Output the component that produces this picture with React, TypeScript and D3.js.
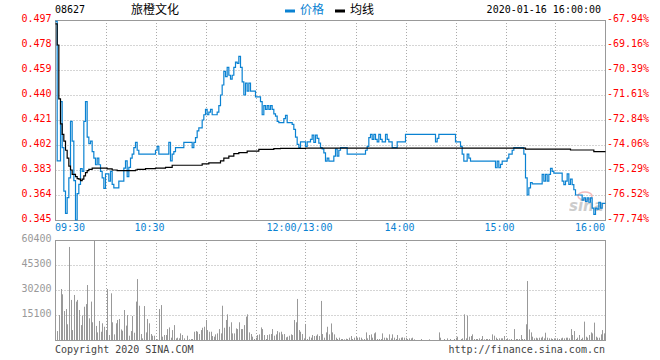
import * as d3 from 'd3'

const W = 660
const H = 360
const LEFT = 55.5
const RIGHT = 605.5
const P_TOP = 20
const P_BOTTOM = 220
const V_TOP = 240
const V_BOTTOM = 340

const BLUE = '#0a82d2'
const RED = '#ff0000'
const GRID = '#aaaaaa'
const FRAME = '#999999'
const MONO = '"DejaVu Sans Mono", "Liberation Mono", monospace'
const CJK = '"Noto Sans CJK SC", sans-serif'

// price axis labels (left) and change vs previous close (right)
const priceTicks = [0.497, 0.478, 0.459, 0.44, 0.421, 0.402, 0.383, 0.364, 0.345]
const priceLabels = ['0.497', '0.478', '0.459', '0.440', '0.421', '0.402', '0.383', '0.364', '0.345']
const pctLabels = ['-67.94%', '-69.16%', '-70.39%', '-71.61%', '-72.84%', '-74.06%', '-75.29%', '-76.52%', '-77.74%']

// trading minutes since 09:30 (lunch break removed)
const timeTicks = [0, 60, 150, 210, 270, 330]
const timeLabels = ['09:30', '10:30', '12:00/13:00', '14:00', '15:00', '16:00']
const gridMinutes = [30, 60, 90, 120, 150, 180, 210, 240, 270, 300]

const volTicks = [60400, 45300, 30200, 15100]

// price: [minute, price], held until the next change
const price: [number, number][] = [
  [0, 0.496], [1, 0.39], [3, 0.435], [4, 0.4], [5, 0.367], [6, 0.35], [7, 0.362], [8, 0.377],
  [9, 0.42], [10, 0.405], [11, 0.375], [12, 0.345], [13, 0.365], [14, 0.372], [15, 0.384], [16, 0.382],
  [17, 0.42], [18, 0.435], [19, 0.408], [20, 0.403], [21, 0.405], [22, 0.397], [23, 0.392], [24, 0.387],
  [25, 0.392], [26, 0.387], [27, 0.382], [28, 0.377], [29, 0.369], [30, 0.38], [32, 0.3745], [33, 0.382],
  [34, 0.372], [35, 0.3694], [38, 0.3745], [41, 0.3845], [42, 0.39], [43, 0.378], [44, 0.385], [45, 0.392],
  [46, 0.395], [47, 0.4], [48, 0.404], [49, 0.398], [50, 0.395], [60, 0.398], [61, 0.401], [62, 0.395],
  [68, 0.404], [69, 0.39], [70, 0.395], [71, 0.397], [72, 0.4], [77, 0.404], [82, 0.4], [83, 0.404],
  [84, 0.4076], [85, 0.4127], [86, 0.415], [88, 0.421], [89, 0.425], [90, 0.429], [91, 0.425], [92, 0.427],
  [93, 0.429], [94, 0.425], [97, 0.427], [98, 0.432], [99, 0.44], [100, 0.4476], [101, 0.458], [102, 0.454],
  [103, 0.461], [104, 0.455], [105, 0.452], [106, 0.455], [107, 0.461], [108, 0.465], [109, 0.464], [110, 0.4694],
  [111, 0.461], [112, 0.45], [113, 0.44], [114, 0.449], [115, 0.443], [116, 0.449], [117, 0.443], [120, 0.4385],
  [123, 0.435], [124, 0.425], [125, 0.432], [126, 0.429], [127, 0.432], [128, 0.429], [129, 0.432], [130, 0.429],
  [131, 0.4257], [132, 0.424], [133, 0.42], [134, 0.419], [137, 0.422], [138, 0.4245], [139, 0.419], [142, 0.4177],
  [143, 0.4138], [144, 0.408], [145, 0.4025], [146, 0.4], [147, 0.4044], [150, 0.401], [151, 0.4044], [153, 0.4063],
  [154, 0.4095], [155, 0.404], [156, 0.4095], [157, 0.407], [158, 0.4035], [159, 0.4], [160, 0.399], [161, 0.396],
  [162, 0.3898], [163, 0.392], [164, 0.3898], [167, 0.3935], [168, 0.399], [169, 0.3935], [170, 0.398], [171, 0.4],
  [175, 0.395], [186, 0.398], [187, 0.401], [188, 0.4076], [189, 0.41], [190, 0.4063], [191, 0.41], [192, 0.4063],
  [193, 0.4044], [194, 0.41], [195, 0.4063], [196, 0.4044], [198, 0.41], [199, 0.4063], [200, 0.4044], [202, 0.4],
  [205, 0.4044], [210, 0.41], [228, 0.4044], [229, 0.407], [230, 0.41], [240, 0.4044], [243, 0.401], [244, 0.395],
  [245, 0.3898], [247, 0.395], [248, 0.392], [249, 0.3898], [264, 0.3847], [265, 0.3898], [266, 0.3847], [267, 0.3873],
  [268, 0.3898], [271, 0.392], [272, 0.395], [274, 0.398], [275, 0.4], [281, 0.395], [282, 0.377], [283, 0.364],
  [284, 0.3694], [285, 0.3735], [286, 0.3725], [292, 0.3796], [293, 0.3745], [294, 0.3796], [295, 0.3745], [296, 0.3796],
  [297, 0.3842], [298, 0.382], [299, 0.3806], [304, 0.3745], [305, 0.3719], [306, 0.3745], [307, 0.38], [308, 0.372],
  [309, 0.376], [310, 0.3719], [311, 0.368], [312, 0.364], [316, 0.36], [317, 0.3618], [318, 0.3592], [319, 0.3618],
  [320, 0.3585], [321, 0.3618], [322, 0.354], [323, 0.3493], [324, 0.354], [325, 0.3533], [326, 0.3585], [327, 0.354],
  [328, 0.3576], [330, 0.3576],
]

// average price line
const avg: [number, number][] = [
  [0, 0.494], [1, 0.478], [2, 0.437], [3, 0.418], [4, 0.41], [5, 0.405], [6, 0.398], [7, 0.392],
  [8, 0.386], [9, 0.383], [10, 0.3796], [12, 0.378], [13, 0.3765], [14, 0.376], [15, 0.375], [16, 0.376],
  [17, 0.3785], [18, 0.381], [19, 0.3825], [20, 0.3835], [22, 0.3845], [31, 0.3838], [34, 0.383], [37, 0.3825],
  [48, 0.383], [49, 0.3835], [54, 0.384], [60, 0.3845], [66, 0.385], [70, 0.3866], [88, 0.3876], [92, 0.3884],
  [99, 0.39], [101, 0.392], [104, 0.3936], [107, 0.3954], [110, 0.3962], [115, 0.3974], [122, 0.3987], [131, 0.3992],
  [135, 0.3994], [150, 0.3996], [282, 0.3988], [309, 0.3982], [323, 0.3969], [330, 0.3969],
]

// volume per minute, minute 0..330
const volume = [
  0, 5400, 15100, 30800, 27600, 17500, 18700, 9500, 56200, 24200,
  6000, 27200, 23200, 24200, 18100, 9000, 14700, 20100, 21700, 33200,
  13100, 23200, 10700, 59800, 8500, 4600, 11500, 5000, 10100, 8000,
  6000, 30800, 3000, 28200, 10700, 3400, 10100, 12100, 12700, 6400,
  5600, 18100, 8700, 15100, 2600, 5400, 14500, 4400, 23200, 36800,
  20700, 3600, 1000, 20500, 4600, 12700, 10100, 3600, 2600, 2600,
  600, 400, 18700, 21100, 2000, 3000, 3000, 6600, 7600, 1400,
  6000, 9000, 1000, 1400, 1000, 4000, 3000, 1000, 0, 2600,
  400, 600, 600, 5000, 5400, 5000, 3600, 6000, 7400, 8000,
  12100, 6000, 5000, 5000, 2400, 2000, 3400, 4000, 6600, 4000,
  20700, 7400, 12100, 15500, 8000, 10700, 4000, 4000, 7000, 6600,
  10700, 6600, 6600, 9000, 14100, 15500, 4600, 3600, 2000, 600,
  1400, 3000, 3400, 7600, 6600, 3000, 600, 3000, 3400, 3600,
  6600, 2600, 3400, 5400, 4600, 5000, 3400, 3600, 1600, 2000,
  2600, 3400, 3000, 12100, 10700, 24800, 6000, 5000, 3600, 1000,
  9700, 600, 2000, 1400, 3000, 2400, 2600, 3400, 2400, 23600,
  3600, 1400, 4600, 8000, 3400, 10000, 4600, 3400, 1400, 600,
  1400, 600, 600, 400, 800, 600, 1400, 2400, 600, 1400,
  2400, 1400, 1600, 1400, 400, 600, 4600, 1000, 3000, 3400,
  1400, 4000, 4600, 600, 600, 600, 4000, 1400, 1400, 1000,
  3400, 1000, 3400, 1400, 600, 3000, 1000, 1400, 1600, 1400,
  1400, 600, 1000, 1000, 1400, 400, 0, 0, 0, 600,
  0, 0, 0, 0, 400, 0, 0, 0, 0, 0,
  4600, 1400, 0, 600, 0, 1000, 0, 600, 0, 600,
  1400, 2000, 0, 600, 1000, 15500, 1000, 14700, 2000, 2400,
  3400, 600, 600, 600, 1000, 600, 2400, 400, 600, 600,
  600, 0, 3400, 2600, 1400, 600, 1000, 1000, 1000, 2400,
  600, 1000, 400, 600, 0, 6600, 600, 600, 600, 3000,
  600, 600, 9500, 35600, 6400, 4600, 2000, 1000, 1400, 1000,
  1400, 1400, 2000, 1000, 4400, 1400, 1000, 1000, 600, 1000,
  1000, 1000, 600, 1000, 1400, 1000, 1400, 1400, 1000, 6600,
  3000, 5400, 600, 1400, 3000, 600, 1400, 11100, 2000, 1400,
  3000, 4600, 4000, 10500, 2000, 1400, 1400, 3400, 6000, 4000,
  0,
]

export default function App() {
  const x = d3.scaleLinear().domain([0, 330]).range([LEFT, RIGHT])
  const y = d3.scaleLinear().domain([0.345, 0.497]).range([P_BOTTOM, P_TOP])
  const v = d3.scaleLinear().domain([0, 60400]).range([V_BOTTOM, V_TOP])

  const line = d3.line<[number, number]>()
    .x(d => x(d[0]))
    .y(d => y(d[1]))
    .curve(d3.curveStepAfter)

  const snap = (n: number) => Math.round(n) + 0.5

  return (
    <svg width={W} height={H} style={{ position: 'absolute', left: 0, top: 0, background: '#fff' }}>
      {/* header */}
      <text x={55} y={13} fontFamily={MONO} fontSize={10} fill="#000">08627</text>
      <text x={131} y={14} fontFamily={CJK} fontSize={12} fill="#000">旅橙文化</text>
      <rect x={285} y={9.5} width={10} height={3} fill={BLUE} />
      <text x={300} y={14} fontFamily={CJK} fontSize={12} fill={BLUE}>价格</text>
      <rect x={335} y={9.5} width={10} height={3} fill="#000" />
      <text x={350} y={14} fontFamily={CJK} fontSize={12} fill="#000">均线</text>
      <text x={601} y={13} textAnchor="end" fontFamily={MONO} fontSize={10} fill="#000">2020-01-16 16:00:00</text>

      {/* price grid */}
      {priceTicks.slice(1, -1).map(t => (
        <line key={`pg-${t}`} x1={LEFT} x2={RIGHT} y1={snap(y(t))} y2={snap(y(t))}
          stroke={GRID} strokeDasharray="1,2" />
      ))}
      {gridMinutes.map(m => (
        <line key={`pv-${m}`} x1={snap(x(m))} x2={snap(x(m))} y1={P_TOP} y2={P_BOTTOM}
          stroke={GRID} strokeDasharray="1,2" />
      ))}
      <rect x={LEFT} y={P_TOP + 0.5} width={RIGHT - LEFT} height={P_BOTTOM - P_TOP} fill="none" stroke={FRAME} />

      {priceTicks.map((t, i) => (
        <g key={`pl-${t}`}>
          <text x={51.5} y={y(t) + 1.5} textAnchor="end" fontFamily={MONO} fontSize={10} fill={RED}>{priceLabels[i]}</text>
          <text x={607} y={y(t) + 1.5} fontFamily={MONO} fontSize={10} fill={RED}>{pctLabels[i]}</text>
        </g>
      ))}

      {/* watermark */}
      <ellipse cx={585} cy={196} rx={7} ry={4} fill="none" stroke="#f2a8a8" strokeWidth={1.5} opacity={0.8} />
      <text x={569} y={211} fontFamily="DejaVu Sans, sans-serif" fontSize={15} fontStyle="italic" fontWeight="bold"
        fill="#c4c4c4" opacity={0.85}>sina</text>

      {/* lines */}
      <path d={line(price) ?? ''} fill="none" stroke={BLUE} strokeWidth={1.2} />
      <path d={line(avg) ?? ''} fill="none" stroke="#000" strokeWidth={1.2} />

      {/* time labels */}
      {timeTicks.map((m, i) => {
        const first = i === 0
        const last = i === timeTicks.length - 1
        return (
          <text key={`tl-${m}`} x={first ? 55 : last ? 605 : x(m) - 6} y={231}
            textAnchor={first ? 'start' : last ? 'end' : 'middle'}
            fontFamily={MONO} fontSize={10} fill={BLUE}>{timeLabels[i]}</text>
        )
      })}

      {/* volume grid */}
      {volTicks.slice(1).map(t => (
        <line key={`vg-${t}`} x1={LEFT} x2={RIGHT} y1={snap(v(t))} y2={snap(v(t))}
          stroke={GRID} strokeDasharray="1,2" />
      ))}
      {gridMinutes.map(m => (
        <line key={`vv-${m}`} x1={snap(x(m))} x2={snap(x(m))} y1={V_TOP} y2={V_BOTTOM}
          stroke={GRID} strokeDasharray="1,2" />
      ))}
      {volume.map((val, m) => val > 0 && (
        <rect key={`vb-${m}`} x={Math.round(x(m))} y={v(val)} width={1} height={V_BOTTOM - v(val)} fill="#999" />
      ))}
      <rect x={LEFT} y={V_TOP + 0.5} width={RIGHT - LEFT} height={V_BOTTOM - V_TOP} fill="none" stroke={FRAME} />
      {volTicks.map(t => (
        <text key={`vl-${t}`} x={51.5} y={v(t) + 2} textAnchor="end" fontFamily={MONO} fontSize={10} fill="#999">{t}</text>
      ))}

      {/* footer */}
      <text x={55} y={353} fontFamily={MONO} fontSize={10} fill="#444">Copyright 2020 SINA.COM</text>
      <text x={605} y={353} textAnchor="end" fontFamily={MONO} fontSize={10} fill="#444">http://finance.sina.com.cn</text>
    </svg>
  )
}
